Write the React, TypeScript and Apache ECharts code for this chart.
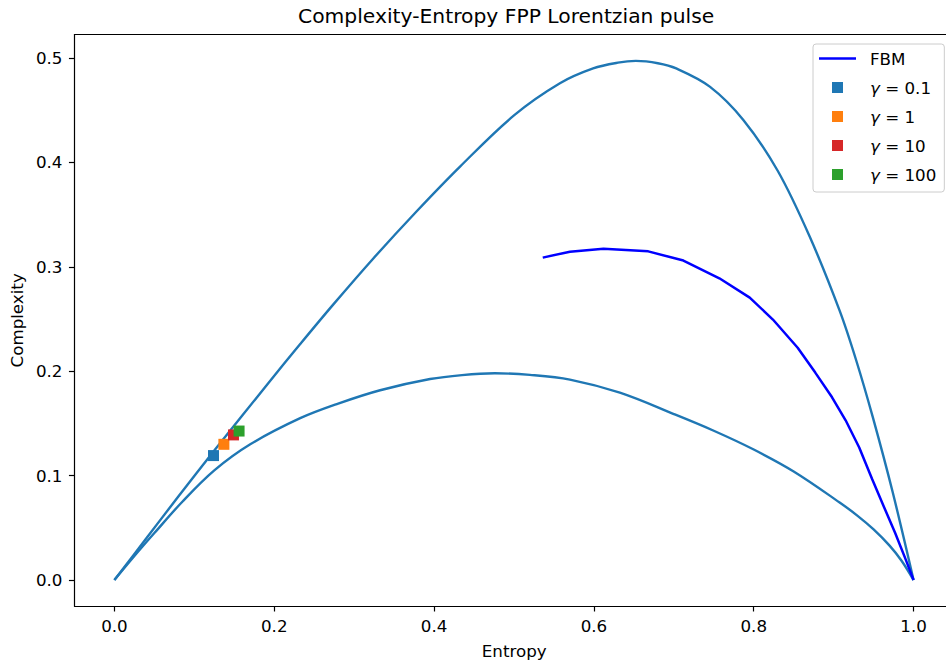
import React, { useEffect, useRef } from 'react';
import * as echarts from 'echarts';

// Upper (maximum complexity) boundary
const upperCurve: number[][] = [
  [0, 0], [0.04, 0.04], [0.08, 0.08], [0.124, 0.123], [0.16, 0.1575], [0.193, 0.189],
  [0.2325, 0.226], [0.274, 0.264], [0.324, 0.308], [0.378, 0.353], [0.4325, 0.396],
  [0.5, 0.445], [0.5575, 0.4758], [0.599, 0.49], [0.63, 0.4955], [0.6525, 0.4972],
  [0.68, 0.495], [0.703, 0.49], [0.745, 0.4726], [0.787, 0.4407], [0.83, 0.392],
  [0.87, 0.329], [0.9075, 0.258], [0.928, 0.211], [0.949, 0.156], [0.974, 0.0838], [1, 0],
];

// Lower (minimum complexity) boundary
const lowerCurve: number[][] = [
  [0, 0], [0.025, 0.023], [0.05, 0.045], [0.085, 0.075], [0.125, 0.105], [0.17, 0.13],
  [0.2325, 0.155], [0.28, 0.169], [0.3325, 0.1818], [0.395, 0.1925], [0.435, 0.1963],
  [0.476, 0.198], [0.52, 0.1965], [0.57, 0.192], [0.6325, 0.1794], [0.7, 0.159],
  [0.75, 0.143], [0.8, 0.125], [0.85, 0.104], [0.9075, 0.0743], [0.93, 0.0615],
  [0.95, 0.0485], [0.97, 0.033], [0.985, 0.0185], [1, 0],
];

// FBM curve
const fbmCurve: number[][] = [
  [0.536, 0.3088], [0.57, 0.3145], [0.612, 0.3174], [0.668, 0.3148], [0.712, 0.306],
  [0.757, 0.289], [0.795, 0.2705], [0.824, 0.2495], [0.855, 0.2225], [0.877, 0.1987],
  [0.898, 0.175], [0.915, 0.153], [0.932, 0.127], [0.948, 0.097], [0.963, 0.07],
  [0.977, 0.045], [0.99, 0.02], [1.0, 0.0],
];

const gammaNames = ['γ = 0.1', 'γ = 1', 'γ = 10', 'γ = 100'];
const gammaPoints: number[][] = [[0.124, 0.1192], [0.137, 0.13], [0.149, 0.139], [0.156, 0.1427]];
const gammaColors = ['#1f77b4', '#ff7f0e', '#d62728', '#2ca02c'];

const xTicks = [0, 0.2, 0.4, 0.6, 0.8, 1.0];
const yTicks = [0, 0.1, 0.2, 0.3, 0.4, 0.5];

const FONT = 'DejaVu Sans';
const TICK_FS = 16.7;
const squareIcon = 'path://M0,0M37,16M13,2.5h11v11h-11z';
const lineIcon = 'path://M0,0M37,16M0,6.75h37v2.5h-37z';

export default function App() {
  const ref = useRef<HTMLDivElement>(null);
  useEffect(() => {
    if (!ref.current) return;
    const chart = echarts.init(ref.current, null, { renderer: 'svg' });
    const axisLine = { show: true, onZero: false, lineStyle: { color: '#000', width: 1.2 } };
    const tickBase = { show: true, length: 5.5, lineStyle: { color: '#000', width: 1.2 } };
    chart.setOption({
      animation: false,
      backgroundColor: '#ffffff',
      textStyle: { fontFamily: FONT },
      title: {
        text: 'Complexity-Entropy FPP Lorentzian pulse',
        left: 298,
        top: 6,
        padding: 0,
        textStyle: { fontSize: 20.3, fontWeight: 'normal', color: '#000', fontFamily: FONT },
      },
      grid: { left: 73.5, right: 0, top: 34.7, bottom: 57 },
      xAxis: [
        {
          type: 'value',
          min: -0.05,
          max: 1.0406,
          name: 'Entropy',
          nameLocation: 'middle',
          nameGap: 36,
          nameTextStyle: { fontSize: TICK_FS, color: '#000', fontFamily: FONT, padding: [0, 0, 0, 8] },
          splitLine: { show: false },
          axisLine,
          axisTick: { ...tickBase, customValues: xTicks },
          axisLabel: {
            customValues: xTicks,
            fontSize: TICK_FS,
            color: '#000',
            fontFamily: FONT,
            margin: 11.5,
            formatter: (v: number) => v.toFixed(1),
          },
        },
        {
          type: 'value',
          position: 'top',
          min: -0.05,
          max: 1.0406,
          splitLine: { show: false },
          axisLine,
          axisTick: { show: false },
          axisLabel: { show: false },
        },
      ],
      yAxis: {
        type: 'value',
        min: -0.02486,
        max: 0.5223,
        name: 'Complexity',
        nameLocation: 'middle',
        nameGap: 47,
        nameTextStyle: { fontSize: TICK_FS, color: '#000', fontFamily: FONT },
        splitLine: { show: false },
        axisLine,
        axisTick: { ...tickBase, customValues: yTicks },
        axisLabel: {
          customValues: yTicks,
          fontSize: TICK_FS,
          color: '#000',
          fontFamily: FONT,
          margin: 12,
          formatter: (v: number) => v.toFixed(1),
        },
      },
      legend: {
        orient: 'vertical',
        left: 813,
        top: 44,
        itemWidth: 37,
        itemHeight: 16,
        itemGap: 12,
        padding: [6, 8, 9, 6],
        backgroundColor: 'rgba(255,255,255,0.8)',
        borderColor: '#cccccc',
        borderWidth: 1,
        borderRadius: 3,
        data: [
          { name: 'FBM', icon: lineIcon },
          ...gammaNames.map((n) => ({ name: n, icon: squareIcon })),
        ],
        formatter: (name: string) => (name.startsWith('γ') ? '{i|γ}' + name.slice(1) : name),
        textStyle: {
          fontSize: TICK_FS,
          color: '#000',
          fontFamily: FONT,
          padding: [0, 0, 0, 9],
          rich: { i: { fontStyle: 'italic', fontSize: TICK_FS, color: '#000', fontFamily: FONT } },
        },
      },
      series: [
        {
          name: 'maxC',
          type: 'line',
          data: upperCurve,
          symbol: 'none',
          smooth: 0.35,
          lineStyle: { color: '#1f77b4', width: 2.4 },
          itemStyle: { color: '#1f77b4' },
          z: 2,
        },
        {
          name: 'minC',
          type: 'line',
          data: lowerCurve,
          symbol: 'none',
          smooth: 0.35,
          lineStyle: { color: '#1f77b4', width: 2.4 },
          itemStyle: { color: '#1f77b4' },
          z: 2,
        },
        {
          name: 'FBM',
          type: 'line',
          data: fbmCurve,
          symbol: 'none',
          lineStyle: { color: '#0000ff', width: 2.5 },
          itemStyle: { color: '#0000ff' },
          z: 3,
        },
        ...gammaNames.map((n, i) => ({
          name: n,
          type: 'scatter',
          data: [gammaPoints[i]],
          symbol: 'rect',
          symbolSize: 11,
          itemStyle: { color: gammaColors[i], opacity: 1 },
          z: 4 + i,
        })),
      ],
    });
    return () => chart.dispose();
  }, []);
  return (
    <div
      ref={ref}
      style={{ position: 'absolute', left: 0, top: 0, width: 946, height: 664 }}
    />
  );
}
